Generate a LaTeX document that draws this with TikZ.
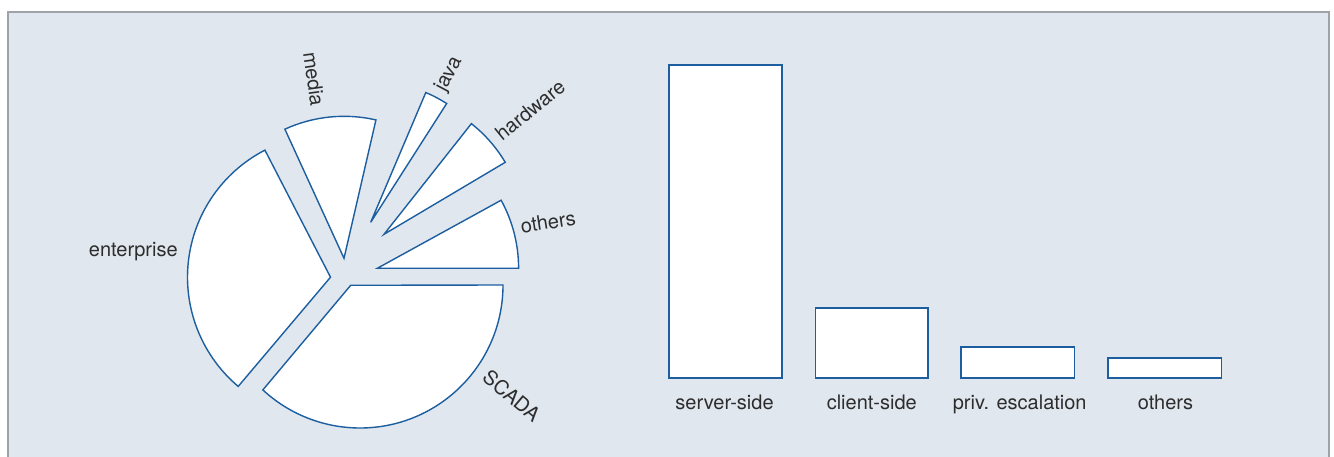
\documentclass[tikz,border=0pt]{standalone}
\usepackage{fontspec}
\setmainfont{TeX Gyre Heros}
\usetikzlibrary{calc}
\definecolor{bgfill}{RGB}{224,231,238}
\definecolor{frameline}{RGB}{158,163,167}
\definecolor{slicecol}{RGB}{28,94,160}
\definecolor{txtcol}{RGB}{45,45,45}
\tikzset{
  slice/.style={draw=slicecol, fill=white, line width=1.4pt, line join=miter},
  barbox/.style={draw=slicecol, fill=white, line width=1.6pt},
  lbl/.style={text=txtcol, inner sep=0pt, font=\fontsize{20}{24}\selectfont},
}
\begin{document}
\begin{tikzpicture}[x=1pt,y=-1pt]
\useasboundingbox (0,0) rectangle (1334,457);
% frame
\draw[frameline, line width=2pt, fill=bgfill] (8,12) rectangle (1329,490);

% ---------------- pie chart ----------------
\coordinate (scC) at (360,285);
\coordinate (scA) at (350.7,285.3);
\coordinate (enC) at (330.5,277.2);
\coordinate (meC) at (344,258.3);
\coordinate (jaC) at (370.7,222.3);
\coordinate (haC) at (384,234.3);
\coordinate (otC) at (377.3,268.3);

% SCADA
\draw[slice] (scA) -- ($(scC)+(0:143)$) arc[start angle=0, end angle=132.8, radius=143] -- cycle;
% enterprise
\draw[slice] (enC) -- ($(enC)+(130.2:143)$) arc[start angle=130.2, end angle=242.7, radius=143] -- cycle;
% media
\draw[slice] (meC) -- ($(meC)+(245.4:142)$) arc[start angle=245.4, end angle=283, radius=142] -- cycle;
% java
\draw[slice] (jaC) -- ($(jaC)+(293:141)$) arc[start angle=293, end angle=302.6, radius=141] -- cycle;
% hardware
\draw[slice] (haC) -- ($(haC)+(308.3:141)$) arc[start angle=308.3, end angle=329.3, radius=141] -- cycle;
% others
\draw[slice] (otC) -- ($(otC)+(331.2:141.3)$) arc[start angle=331.2, end angle=360, radius=141.3] -- cycle;

% pie labels
\node[lbl, anchor=base] (lEnt) at (133.3,256.7) {enterprise};
\node[lbl, rotate=-82] (lMed) at (314,79) {media};
\node[lbl, rotate=62] (lJav) at (449,74.5) {java};
\node[lbl, rotate=39] (lHar) at (530,110) {hardware};
\node[lbl, rotate=9] (lOth) at (548,222) {others};
\node[lbl, rotate=-40] (lSca) at (511.7,395.8) {SCADA};

% ---------------- bar chart ----------------
\draw[barbox] (668.7,377.7) rectangle (781.7,64.8);
\draw[barbox] (815.3,377.7) rectangle (928.2,308);
\draw[barbox] (961.1,377.7) rectangle (1074.4,346.7);
\draw[barbox] (1108.1,377.7) rectangle (1221.4,357.7);

\node[lbl, anchor=base] (bServ) at (724.5,409.3) {server-side};
\node[lbl, anchor=base] (bCli) at (871.8,409.3) {client-side};
\node[lbl, anchor=base] (bPriv) at (1019.7,409.3) {priv. escalation};
\node[lbl, anchor=base] (bOth) at (1165.5,409.3) {others};
\end{tikzpicture}
\end{document}
